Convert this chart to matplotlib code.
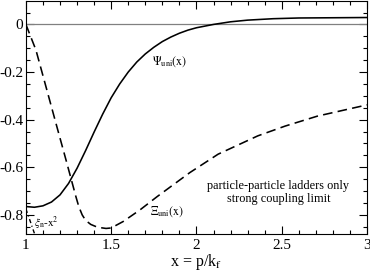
import numpy as np
import matplotlib
matplotlib.use("Agg")
import matplotlib.pyplot as plt
from matplotlib.ticker import MultipleLocator, FormatStrFormatter

# --- data ---
psi_x = [1.0, 1.05, 1.1, 1.15, 1.2, 1.25, 1.3, 1.35, 1.4, 1.45, 1.5, 1.55, 1.6,
         1.65, 1.7, 1.75, 1.8, 1.85, 1.9, 1.95, 2.0, 2.1, 2.2, 2.3, 2.45, 2.6, 2.8, 3.0]
psi_y = [-0.765, -0.768, -0.762, -0.746, -0.716, -0.668, -0.604, -0.530, -0.452, -0.377,
         -0.308, -0.250, -0.200, -0.158, -0.124, -0.096, -0.072, -0.053, -0.037, -0.024,
         -0.014, 0.0, 0.011, 0.018, 0.024, 0.027, 0.028, 0.029]

xi_x = [1.0, 1.059, 1.117, 1.176, 1.235, 1.293, 1.31, 1.33, 1.35, 1.38, 1.42, 1.47, 1.5,
        1.57, 1.669, 1.77, 1.863, 1.962, 2.127, 2.36, 2.52, 2.71, 3.0]
xi_y = [0.0, -0.108, -0.26, -0.415, -0.569, -0.723, -0.765, -0.80, -0.823, -0.84, -0.852,
        -0.857, -0.855, -0.828, -0.779, -0.723, -0.674, -0.622, -0.545, -0.468, -0.427,
        -0.385, -0.338]

# xi_n - x^2 asymptote near x = 1
asym_x = [1.0, 1.025, 1.05]
asym_y = [-0.775, -0.826, -0.878]

plt.rcParams['font.family'] = ['Liberation Serif', 'DejaVu Serif']
plt.rcParams['mathtext.fontset'] = 'stix'
plt.rcParams['axes.unicode_minus'] = False

fig = plt.figure(figsize=(3.70, 2.72), dpi=100)
ax = fig.add_axes([0.070, 0.140, 0.922, 0.856])

ax.axhline(0, color='gray', lw=0.9)
ax.plot(psi_x, psi_y, color='black', lw=1.15)
ax.plot(xi_x, xi_y, color='black', lw=1.15, dashes=(6, 3.3))
ax.plot(asym_x, asym_y, color='black', lw=1.0, dashes=(3, 2, 0.8, 2))

ax.text(1.74, -0.158, r'$\Psi_{\mathrm{uni}}(\mathrm{x})$', fontsize=8.5, va='center')
ax.text(1.73, -0.787, r'$\Xi_{\mathrm{uni}}(\mathrm{x})$', fontsize=8.5, va='center')
ax.text(1.05, -0.852, r'$\xi_{\mathrm{n}}$-$\mathrm{x}^{2}$', fontsize=8, va='baseline')
ax.text(2.48, -0.705, 'particle-particle ladders only\nstrong coupling limit',
        fontsize=8.8, ha='center', va='center', linespacing=1.15)

ax.set_xlim(1, 3)
ax.set_ylim(-0.88, 0.098)
ax.xaxis.set_major_locator(MultipleLocator(0.5))
ax.xaxis.set_minor_locator(MultipleLocator(0.1))
ax.yaxis.set_major_locator(MultipleLocator(0.2))
ax.yaxis.set_minor_locator(MultipleLocator(0.05))
ax.xaxis.set_major_formatter(FormatStrFormatter('%g'))
ax.yaxis.set_major_formatter(FormatStrFormatter('%g'))
ax.tick_params(which='both', direction='in', top=True, right=True, labelsize=11, pad=2)
ax.tick_params(axis='x', which='major', pad=3.5)
ax.tick_params(which='major', length=6, width=0.8)
ax.tick_params(which='minor', length=3, width=0.8)
for s in ax.spines.values():
    s.set_linewidth(0.8)

ax.set_xlabel(r'x = p/k$_\mathrm{f}$', fontsize=11.5, labelpad=0)

fig.savefig('out.png', dpi=100)
